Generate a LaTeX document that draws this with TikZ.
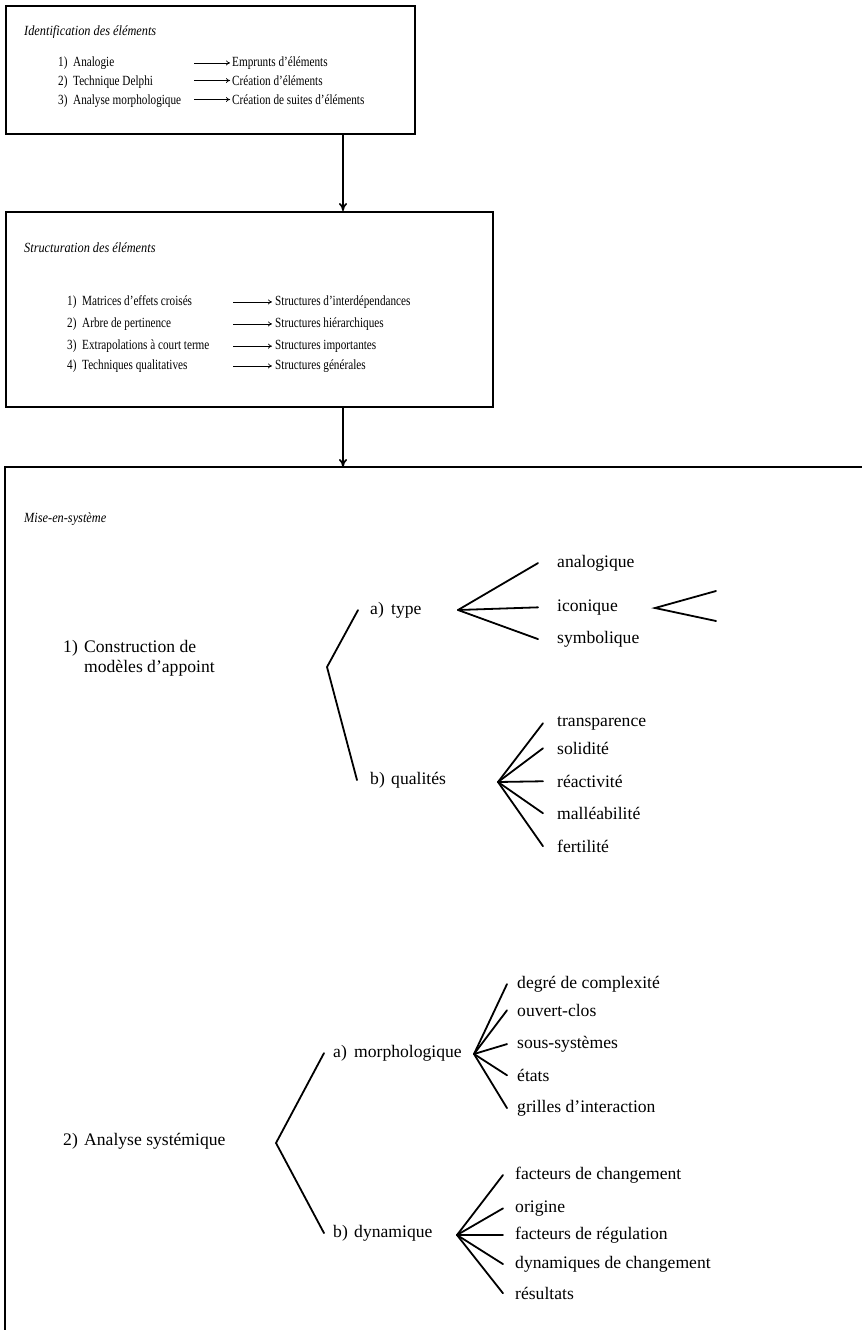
\documentclass[tikz,border=0pt]{standalone}
\usepackage{fontspec}
\setmainfont{Liberation Serif}[Ligatures=TeX]
\newfontfamily\condfont{Liberation Serif}[FakeStretch=0.80, Ligatures=TeX]
\newfontfamily\condital{Liberation Serif Italic}[FakeStretch=0.88, Ligatures=TeX]
\usetikzlibrary{arrows.meta}
\tikzset{
  frame/.style={line width=1.9pt},
  boxtxt/.style={font=\condfont\fontsize{14}{16}\selectfont, anchor=mid west, inner sep=0pt},
  boxttl/.style={font=\condital\fontsize{14}{16}\selectfont, anchor=mid west, inner sep=0pt},
  treetxt/.style={font=\fontsize{17.6}{20}\selectfont, anchor=mid west, inner sep=0pt, align=left},
  branch/.style={line width=1.8pt, line cap=round},
  maparrow/.style={-{To[length=4pt,width=5pt]}, line width=0.7pt},
  flow/.style={-{To[length=8pt,width=8pt]}, line width=1.7pt},
}
\newcommand{\itemno}[1]{\makebox[15pt][l]{#1}}
\newcommand{\tnum}[1]{\makebox[21pt][l]{#1}}
\begin{document}
\begin{tikzpicture}[x=1pt,y=-1pt]
\useasboundingbox (0,0) rectangle (862,1330);

% ---------- box 1
\node[draw, frame, anchor=north west, minimum width=409pt, minimum height=128pt, inner sep=0pt] (box1) at (5,5) {};
\node[boxttl] (t1) at (24,33) {Identification des éléments};
\node[boxtxt] (a1) at (58,64) {\itemno{1)}Analogie};
\node[boxtxt] (a2) at (58,83) {\itemno{2)}Technique Delphi};
\node[boxtxt] (a3) at (58,102) {\itemno{3)}Analyse morphologique};
\node[boxtxt] (e1) at (232,64) {Emprunts d'éléments};
\node[boxtxt] (e2) at (232,83) {Création d'éléments};
\node[boxtxt] (e3) at (232,102) {Création de suites d'éléments};
\foreach \n in {e1,e2,e3}
  \draw[maparrow] ([xshift=-38pt]\n.west) -- ([xshift=-2pt]\n.west);

% ---------- box 2
\node[draw, frame, anchor=north west, minimum width=487pt, minimum height=195pt, inner sep=0pt] (box2) at (5,211) {};
\node[boxttl] (t2) at (24,250) {Structuration des éléments};
\node[boxtxt] (s1) at (67,303) {\itemno{1)}Matrices d'effets croisés};
\node[boxtxt] (s2) at (67,325) {\itemno{2)}Arbre de pertinence};
\node[boxtxt] (s3) at (67,347) {\itemno{3)}Extrapolations à court terme};
\node[boxtxt] (s4) at (67,367) {\itemno{4)}Techniques qualitatives};
\node[boxtxt] (r1) at (275,303) {Structures d'interdépendances};
\node[boxtxt] (r2) at (275,325) {Structures hiérarchiques};
\node[boxtxt] (r3) at (275,347) {Structures importantes};
\node[boxtxt] (r4) at (275,367) {Structures générales};
\foreach \n in {r1,r2,r3,r4}
  \draw[maparrow] ([xshift=-42pt]\n.west) -- ([xshift=-3pt]\n.west);

% ---------- box 3 (open on right and bottom)
\coordinate (b3tl) at (5,467);
\coordinate (b3tr) at (862,467);
\coordinate (b3bl) at (5,1330);
\draw[frame] (b3bl) -- (b3tl) -- (b3tr);
\node[boxttl] (t3) at (24,520) {Mise-en-système};

% ---------- flow arrows
\coordinate (col) at (343,0);
\draw[flow] (box1.south -| col) -- (box2.north -| col);
\draw[flow] (box2.south -| col) -- (b3tl -| col);

% ---------- tree 1
\node[treetxt] (m1) at (63,670) {\tnum{1)}Construction de\\\tnum{}modèles d'appoint};
\node[treetxt] (ta) at (370,612) {\tnum{a)}type};
\node[treetxt] (tb) at (370,782) {\tnum{b)}qualités};
\coordinate (v1) at (327,667);
\draw[branch] ([xshift=-12pt]ta.west) -- (v1) -- ([xshift=-13pt]tb.west);

\node[treetxt] (ty1) at (557,565) {analogique};
\node[treetxt] (ty2) at (557,609) {iconique};
\node[treetxt] (ty3) at (557,641) {symbolique};
\coordinate (vt) at (458,610);
\foreach \n in {ty1,ty2,ty3}
  \draw[branch] (vt) -- ([xshift=-19pt]\n.west);
\coordinate (vi) at (655,608);
\coordinate (ic1) at (716,591);
\coordinate (ic2) at (716,621);
\draw[branch] (ic1) -- (vi) -- (ic2);

\node[treetxt] (q1) at (557,724) {transparence};
\node[treetxt] (q2) at (557,752) {solidité};
\node[treetxt] (q3) at (557,785) {réactivité};
\node[treetxt] (q4) at (557,817) {malléabilité};
\node[treetxt] (q5) at (557,850) {fertilité};
\coordinate (vq) at (498,782);
\foreach \n in {q1,q2,q3,q4,q5}
  \draw[branch] (vq) -- ([xshift=-14pt]\n.west);

% ---------- tree 2
\node[treetxt] (m2) at (63,1143) {\tnum{2)}Analyse systémique};
\node[treetxt] (ma) at (333,1055) {\tnum{a)}morphologique};
\node[treetxt] (mb) at (333,1235) {\tnum{b)}dynamique};
\coordinate (v2) at (276,1143);
\draw[branch] ([xshift=-9pt]ma.west) -- (v2) -- ([xshift=-9pt]mb.west);

\node[treetxt] (p1) at (517,986) {degré de complexité};
\node[treetxt] (p2) at (517,1014) {ouvert-clos};
\node[treetxt] (p3) at (517,1046) {sous-systèmes};
\node[treetxt] (p4) at (517,1079) {états};
\node[treetxt] (p5) at (517,1110) {grilles d'interaction};
\coordinate (vm) at (474,1054);
\foreach \n in {p1,p2,p3,p4,p5}
  \draw[branch] (vm) -- ([xshift=-10pt]\n.west);

\node[treetxt] (d1) at (515,1177) {facteurs de changement};
\node[treetxt] (d2) at (515,1210) {origine};
\node[treetxt] (d3) at (515,1237) {facteurs de régulation};
\node[treetxt] (d4) at (515,1266) {dynamiques de changement};
\node[treetxt] (d5) at (515,1297) {résultats};
\coordinate (vd) at (457,1235);
\foreach \n in {d1,d2,d3,d4,d5}
  \draw[branch] (vd) -- ([xshift=-12pt]\n.west);
\end{tikzpicture}
\end{document}
